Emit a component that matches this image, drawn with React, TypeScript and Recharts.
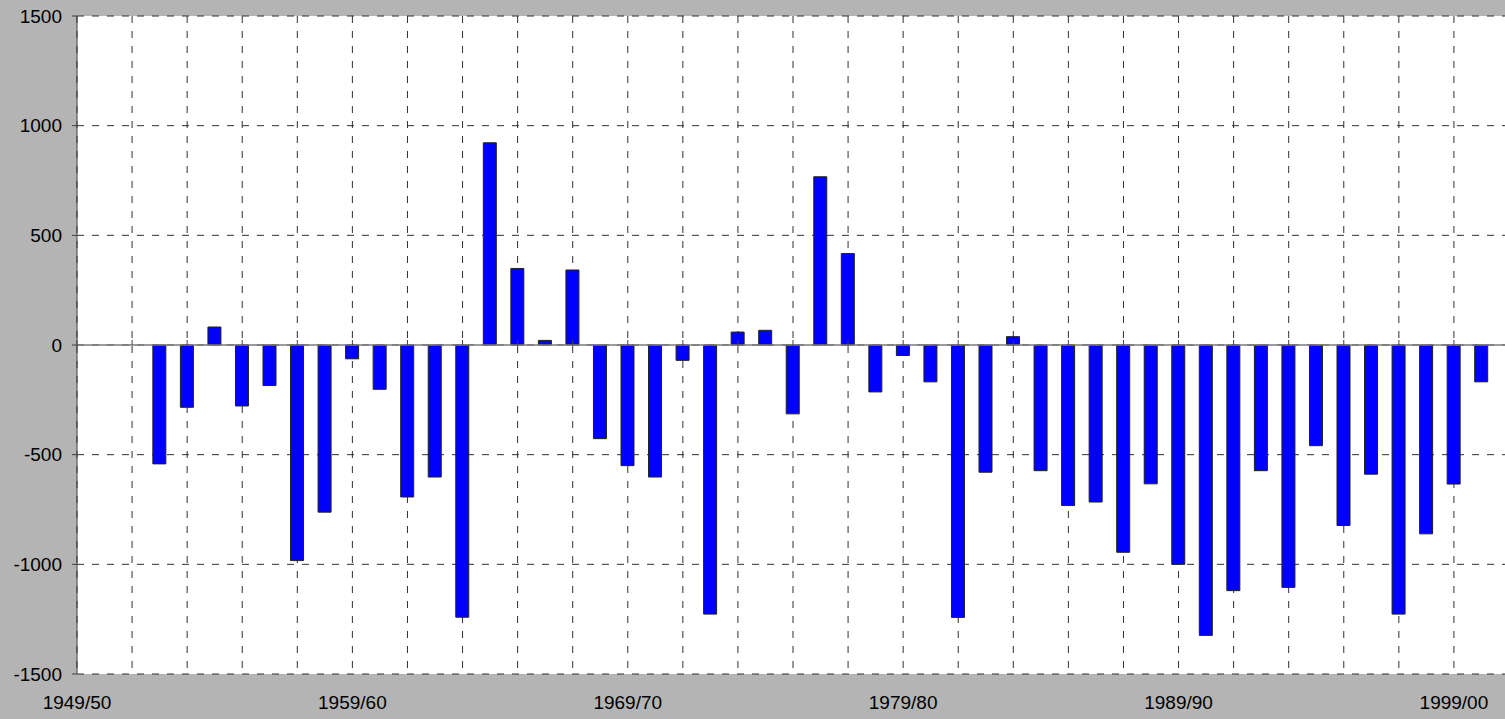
import { BarChart, Bar, XAxis, YAxis, CartesianGrid, ReferenceLine } from 'recharts'

// seasons 1952/53 .. 2000/01
const seasons = [
  '1952/53', '1953/54', '1954/55', '1955/56', '1956/57', '1957/58', '1958/59', '1959/60', '1960/61', '1961/62',
  '1962/63', '1963/64', '1964/65', '1965/66', '1966/67', '1967/68', '1968/69', '1969/70', '1970/71', '1971/72',
  '1972/73', '1973/74', '1974/75', '1975/76', '1976/77', '1977/78', '1978/79', '1979/80', '1980/81', '1981/82',
  '1982/83', '1983/84', '1984/85', '1985/86', '1986/87', '1987/88', '1988/89', '1989/90', '1990/91', '1991/92',
  '1992/93', '1993/94', '1994/95', '1995/96', '1996/97', '1997/98', '1998/99', '1999/00', '2000/01',
]

const values = [
  -542, -284, 82, -278, -185, -983, -762, -63, -202, -693,
  -602, -1241, 922, 349, 21, 342, -427, -550, -602, -70,
  -1227, 59, 67, -314, 767, 417, -214, -48, -168, -1242,
  -580, 38, -573, -732, -716, -945, -633, -1000, -1324, -1120,
  -573, -1105, -459, -823, -589, -1227, -861, -634, -168,
]

const tickLabels = ['1949/50', '1959/60', '1969/70', '1979/80', '1989/90', '1999/00']
const yTicks = [-1500, -1000, -500, 0, 500, 1000, 1500]

const baseYear = 1949
const startOf = (s: string) => parseInt(s.slice(0, 4), 10) - baseYear

const data = seasons.map((s, k) => ({ season: s, x: startOf(s), value: values[k] }))
const gridTicks = Array.from({ length: 27 }, (_, k) => k * 2)
const labelAt = new Map(tickLabels.map((l) => [startOf(l), l]))

const font = '"Liberation Sans", Arial, sans-serif'

export default function App() {
  return (
    <div style={{ position: 'absolute', left: 0, top: 0, width: 1505, height: 719, overflow: 'hidden', background: '#b4b4b4' }}>
      <BarChart width={1509} height={719} data={data} margin={{ top: 16, right: 0, left: 0, bottom: 0 }}>
        <CartesianGrid stroke="#303030" strokeDasharray="7 8" fill="#ffffff" fillOpacity={1} />
        <XAxis
          dataKey="x"
          type="number"
          domain={[0, 52]}
          ticks={gridTicks}
          interval={0}
          allowDataOverflow
          tickFormatter={(v: number) => labelAt.get(v) ?? ''}
          axisLine={false}
          tickLine={false}
          tickSize={0}
          tickMargin={22}
          height={45}
          tick={{ fill: '#000', fontSize: 19, fontFamily: font }}
        />
        <YAxis
          domain={[-1500, 1500]}
          ticks={yTicks}
          interval={0}
          width={77}
          axisLine={{ stroke: '#404040' }}
          tickLine={{ stroke: '#404040' }}
          tickSize={5}
          tickMargin={10}
          tick={{ fill: '#000', fontSize: 19, fontFamily: font }}
        />
        <ReferenceLine y={0} stroke="#7a7a7a" strokeWidth={1.5} />
        {gridTicks.map((t) => (
          <ReferenceLine key={t} segment={[{ x: t, y: 0 }, { x: t, y: 23 }]} stroke="#404040" />
        ))}
        <Bar dataKey="value" fill="#0000ff" stroke="#202020" strokeWidth={1} barSize={13} isAnimationActive={false} />
      </BarChart>
    </div>
  )
}
